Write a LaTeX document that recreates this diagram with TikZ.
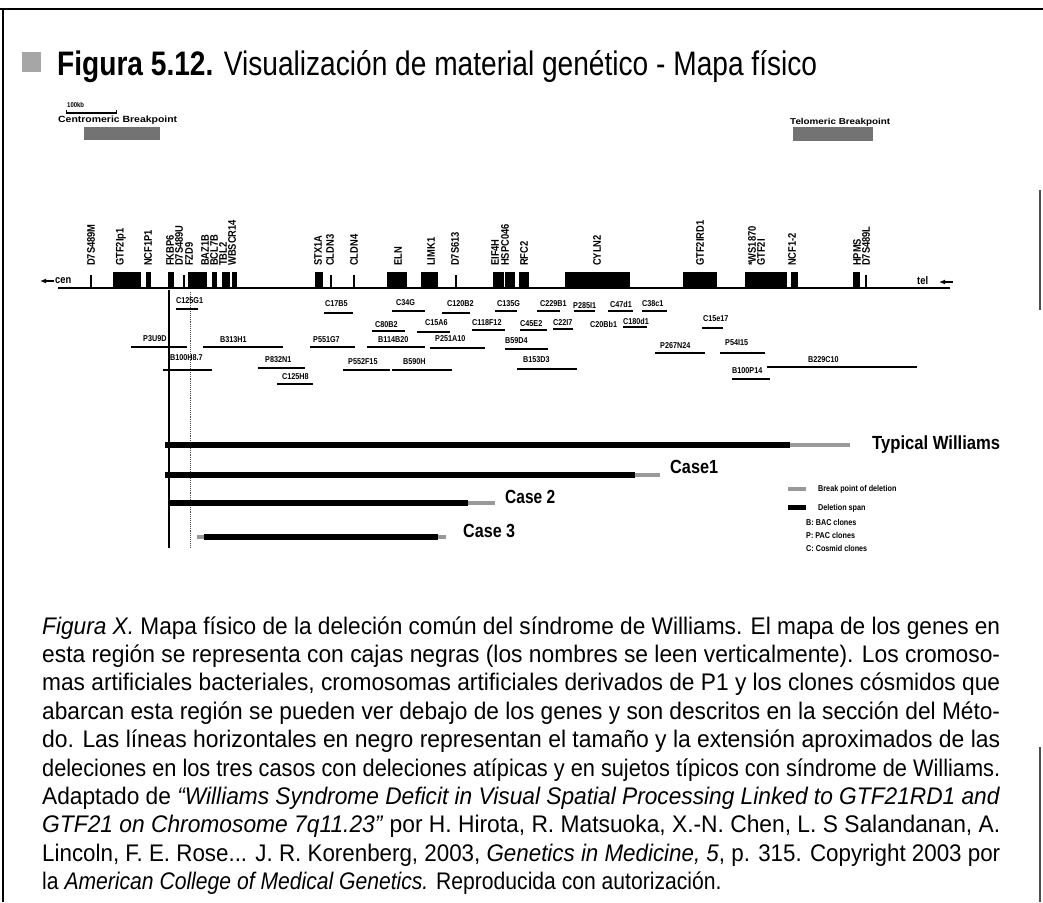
\documentclass[tikz,border=0pt]{standalone}
\usepackage{fontspec}
\usepackage{graphicx}
\usetikzlibrary{arrows.meta}
\setmainfont{Liberation Sans}
\newfontfamily\condfont{Liberation Sans}[FakeStretch=0.78]
\newfontfamily\capfont{Liberation Sans}[FakeStretch=0.88]
\newfontfamily\labfont{Liberation Sans}[FakeStretch=0.85]
\newcommand\fitw[2]{\resizebox{#1}{\height}{#2}}
\begin{document}
\begin{tikzpicture}[x=1pt,y=-1pt,
  frame/.style={line width=2pt,black},
  genebox/.style={fill=black,draw=none},
  genetick/.style={line width=1.6pt,black},
  glab/.style={rotate=90,anchor=west,inner sep=0pt,font=\labfont\bfseries\fontsize{11}{11}\selectfont},
  clab/.style={anchor=west,inner sep=0pt,font=\labfont\bfseries\fontsize{8.5}{8.5}\selectfont},
  cline/.style={line width=1.7pt,black},
  graybox/.style={fill=black!55,draw=none},
  delbar/.style={fill=black,draw=none},
  bpbar/.style={fill=black!40,draw=none},
  caselab/.style={anchor=west,inner sep=0pt,font=\condfont\bfseries\fontsize{19}{19}\selectfont},
  leglab/.style={anchor=west,inner sep=0pt,font=\labfont\bfseries\fontsize{8.5}{8.5}\selectfont},
  capl/.style={anchor=base west,inner sep=0pt,font=\capfont\fontsize{24}{24}\selectfont}]
\useasboundingbox (0,0) rectangle (1043,902);
\fill[white] (0,0) rectangle (1043,902);
% frame
\draw[frame] (0,9) -- (1043,9);
\draw[frame] (3,9) -- (3,902);
\draw[line width=1.2pt,black!70] (1040,190) -- (1040,310);
\draw[line width=1.2pt,black!70] (1040,747) -- (1040,902);
% title
\fill[black!35] (22,52) rectangle (41,72);
\node[anchor=base west,inner sep=0pt,font=\condfont\fontsize{34}{34}\selectfont] (title) at (57,75)
  {\fitw{760pt}{\textbf{Figura 5.12.} Visualización de material genético - Mapa físico}};
% scale bar and breakpoints
\node[anchor=west,inner sep=0pt,font=\labfont\bfseries\fontsize{7}{7}\selectfont] (kb) at (67,105) {100kb};
\coordinate (sb1) at (66,113); \coordinate (sb2) at (116,113);
\draw[line width=1.2pt] (sb1) -- (sb2);
\draw[line width=0.8pt] (66,110) -- (66,114) (116,110) -- (116,114);
\node[anchor=west,inner sep=0pt,font=\labfont\bfseries\fontsize{9}{9}\selectfont] (cbp) at (58,120) {\fitw{119pt}{Centromeric Breakpoint}};
\fill[graybox] (84,127) rectangle (160,140);
\node[anchor=west,inner sep=0pt,font=\labfont\bfseries\fontsize{8.5}{8.5}\selectfont] (tbp) at (790,122) {\fitw{100pt}{Telomeric Breakpoint}};
\fill[graybox] (793,127) rectangle (873,141);
% chromosome line
\draw[line width=2.6pt] (58,288) -- (950,288);
\node[anchor=west,inner sep=0pt,font=\labfont\bfseries\fontsize{11}{11}\selectfont] (cen) at (55,281) {cen};
\coordinate (ca1) at (54,281); \coordinate (ca2) at (40,281);
\draw[-{Latex[length=6pt,width=5pt]},line width=1.2pt] (ca1) -- (ca2);
\node[anchor=west,inner sep=0pt,font=\labfont\bfseries\fontsize{11}{11}\selectfont] (tel) at (917,281) {tel};
\coordinate (ta1) at (953,282); \coordinate (ta2) at (939,282);
\draw[-{Latex[length=6pt,width=5pt]},line width=1.2pt] (ta1) -- (ta2);
% gene boxes
\foreach \a/\b in {113/141,146/151,168/174,188/207,212/217,222/230,232/237,315/323,387/407,421/438,493/504,505/515,519/529,565/630,683/717,745/787,791/798,853/860}
  \fill[genebox] (\a,272) rectangle (\b,287);
\foreach \a in {91,184,331,354,456,866}
  \draw[genetick] (\a,275) -- (\a,287);
% gene labels
\foreach \x/\t in {91/D7S489M,121/GTF2Ip1,148/NCF1P1,170/FKBP6,179/D7S489U,189/FZD9,205/BAZ1B,214/BCL7B,223/TBL2,232/WBSCR14,
  318/STX1A,330/CLDN3,354/CLDN4,398/ELN,431/LIMK1,455/D7S613,495/EIF4H,505/HSPC046,524/RFC2,597/CYLN2,700/GTF2IRD1,
  752/*WS1870,761/GTF2I,792/NCF1-2,857/HPMS,866/D7S489L}
  \node[glab] at (\x,266) {\t};
% vertical guide lines
\draw[line width=1.1pt] (169,290) -- (169,548);
\draw[line width=0.9pt,densely dotted,black!70] (190,292) -- (190,548);
% clones: label x, label y, line x1, line x2, line y
\foreach \lx/\ly/\ta/\tb/\ty/\t in {
  176/301/176/198/309/C125G1, 325/304/324/353/313/C17B5, 396/303/392/425/311/C34G,
  447/304/442/470/313/C120B2, 497/304/495/517/311/C135G, 540/304/537/560/311/C229B1,
  573/306/574/595/311/P285I1, 610/304/608/633/311/C47d1, 642/304/642/667/311/C38c1,
  375/325/372/405/331/C80B2, 425/323/417/450/332/C15A6, 472/323/472/505/330/C118F12,
  520/324/520/547/330/C45E2, 553/323/553/573/329/C22I7, 623/321/623/647/327/C180d1,
  703/319/702/723/328/C15e17,
  143/339/131/187/347/P3U9D, 220/340/203/283/347/B313H1, 313/340/310/355/347/P551G7,
  378/340/367/425/347/B114B20, 435/339/430/485/348/P251A10, 505/341/505/548/349/B59D4,
  660/346/655/705/353/P267N24, 725/343/720/765/353/P54I15,
  170/358/163/212/370/B100H8.7, 265/360/258/305/368/P832N1, 348/362/343/390/370/P552F15,
  403/362/392/452/370/B590H, 523/360/517/577/369/B153D3, 808/360/767/917/367/B229C10,
  732/371/732/770/379/B100P14, 282/377/277/313/384/C125H8}
{
  \node[clab] at (\lx,\ly) {\t};
  \draw[cline] (\ta,\ty) -- (\tb,\ty);
}
\node[clab] at (590,324) {C20Bb1};
% deletions
\fill[delbar] (165,442) rectangle (790,448);
\fill[bpbar] (790,443) rectangle (850,447);
\node[caselab] (tw) at (872,445) {\fitw{128pt}{Typical Williams}};
\fill[delbar] (165,472) rectangle (635,478);
\fill[bpbar] (635,473) rectangle (660,477);
\node[caselab] (c1) at (670,467) {\fitw{48pt}{Case1}};
\fill[delbar] (168,500) rectangle (468,506);
\fill[bpbar] (468,501) rectangle (495,505);
\node[caselab] (c2) at (505,497) {\fitw{50pt}{Case 2}};
\fill[bpbar] (197,535) rectangle (204,539);
\fill[delbar] (204,534) rectangle (438,540);
\fill[bpbar] (438,535) rectangle (446,539);
\node[caselab] (c3) at (463,531) {\fitw{52pt}{Case 3}};
% legend
\fill[bpbar] (788,487) rectangle (806,491);
\node[leglab] (l1) at (818,489) {Break point of deletion};
\fill[delbar] (788,505) rectangle (806,510);
\node[leglab] (l2) at (818,508) {Deletion span};
\node[leglab] (l3) at (806,522) {B: BAC clones};
\node[leglab] (l4) at (806,535) {P: PAC clones};
\node[leglab] (l5) at (806,548) {C: Cosmid clones};
% caption
\node[capl] (k1) at (42,634) {\fitw{958pt}{\textit{Figura X.} Mapa físico de la deleción común del síndrome de Williams. El mapa de los genes en}};
\node[capl] (k2) at (42,662.4) {\fitw{958pt}{esta región se representa con cajas negras (los nombres se leen verticalmente). Los cromoso-}};
\node[capl] (k3) at (42,690.8) {\fitw{958pt}{mas artificiales bacteriales, cromosomas artificiales derivados de P1 y los clones cósmidos que}};
\node[capl] (k4) at (42,719.2) {\fitw{958pt}{abarcan esta región se pueden ver debajo de los genes y son descritos en la sección del Méto-}};
\node[capl] (k5) at (42,747.6) {\fitw{958pt}{do. Las líneas horizontales en negro representan el tamaño y la extensión aproximados de las}};
\node[capl] (k6) at (42,776) {\fitw{958pt}{deleciones en los tres casos con deleciones atípicas y en sujetos típicos con síndrome de Williams.}};
\node[capl] (k7) at (42,804.4) {\fitw{958pt}{Adaptado de \textit{“Williams Syndrome Deficit in Visual Spatial Processing Linked to GTF21RD1 and}}};
\node[capl] (k8) at (42,832.8) {\fitw{958pt}{\textit{GTF21 on Chromosome 7q11.23”} por H. Hirota, R. Matsuoka, X.-N. Chen, L. S Salandanan, A.}};
\node[capl] (k9) at (42,861.2) {\fitw{958pt}{Lincoln, F. E. Rose... J. R. Korenberg, 2003, \textit{Genetics in Medicine, 5}, p. 315. Copyright 2003 por}};
\node[capl] (k10) at (42,889.6) {la \textit{American College of Medical Genetics.} Reproducida con autorización.};
\end{tikzpicture}
\end{document}
